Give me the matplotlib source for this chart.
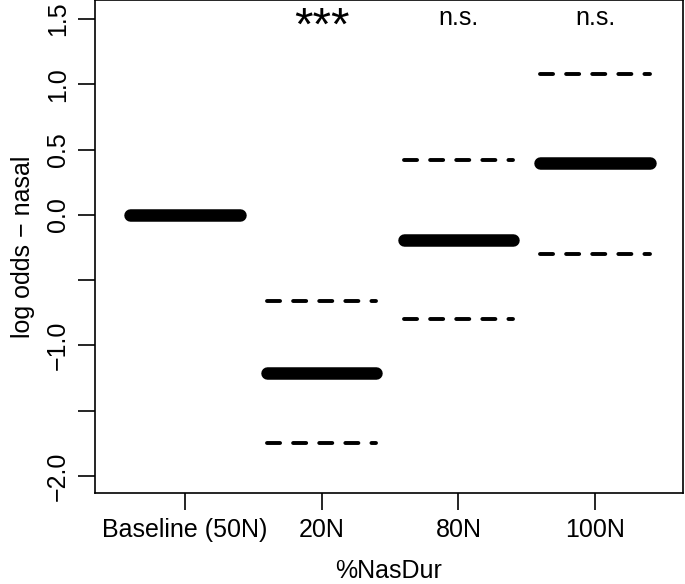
import matplotlib.pyplot as plt

plt.rcParams['font.family'] = ['Liberation Sans', 'DejaVu Sans']
plt.rcParams['lines.scale_dashes'] = False

groups = ['Baseline (50N)', '20N', '80N', '100N']
estimate = [0.0, -1.21, -0.19, 0.40]
upper = [None, -0.66, 0.42, 1.08]
lower = [None, -1.75, -0.80, -0.30]
signif = ['', '***', 'n.s.', 'n.s.']

y_ticks = [-2.0, -1.5, -1.0, -0.5, 0.0, 0.5, 1.0, 1.5]
y_labels = ['\u22122.0', '', '\u22121.0', '', '0.0', '0.5', '1.0', '1.5']

fig = plt.figure(figsize=(6.85, 5.84), dpi=100)
ax = fig.add_axes([0.1387, 0.1558, 0.8584, 0.8442])

half = 0.40
for i, g in enumerate(groups):
    x = i + 1
    ax.plot([x - half, x + half], [estimate[i], estimate[i]], color='black',
            lw=9, solid_capstyle='round')
    if upper[i] is not None:
        for v in (upper[i], lower[i]):
            ax.plot([x - half, x + half], [v, v], color='black', lw=2.8,
                    linestyle=(0, (9.4, 9.4)), dash_capstyle='round')
    if signif[i] == '***':
        ax.text(x, 1.43, signif[i], ha='center', va='center', fontsize=34)
    elif signif[i]:
        ax.text(x, 1.51, signif[i], ha='center', va='center', fontsize=18)

ax.set_xlim(0.342, 4.643)
ax.set_ylim(-2.13, 1.645)
ax.set_xticks(range(1, len(groups) + 1))
ax.set_xticklabels(groups, fontsize=18)
ax.set_yticks(y_ticks)
ax.set_yticklabels(y_labels, fontsize=18, rotation=90, va='center')
ax.tick_params(axis='both', length=12, width=1.2, pad=6)
for s in ax.spines.values():
    s.set_linewidth(1.2)
ax.set_xlabel('%NasDur', fontsize=18, labelpad=12)
ax.set_ylabel('log odds \u2212 nasal', fontsize=18, labelpad=8)

fig.savefig('out.png', dpi=100)
